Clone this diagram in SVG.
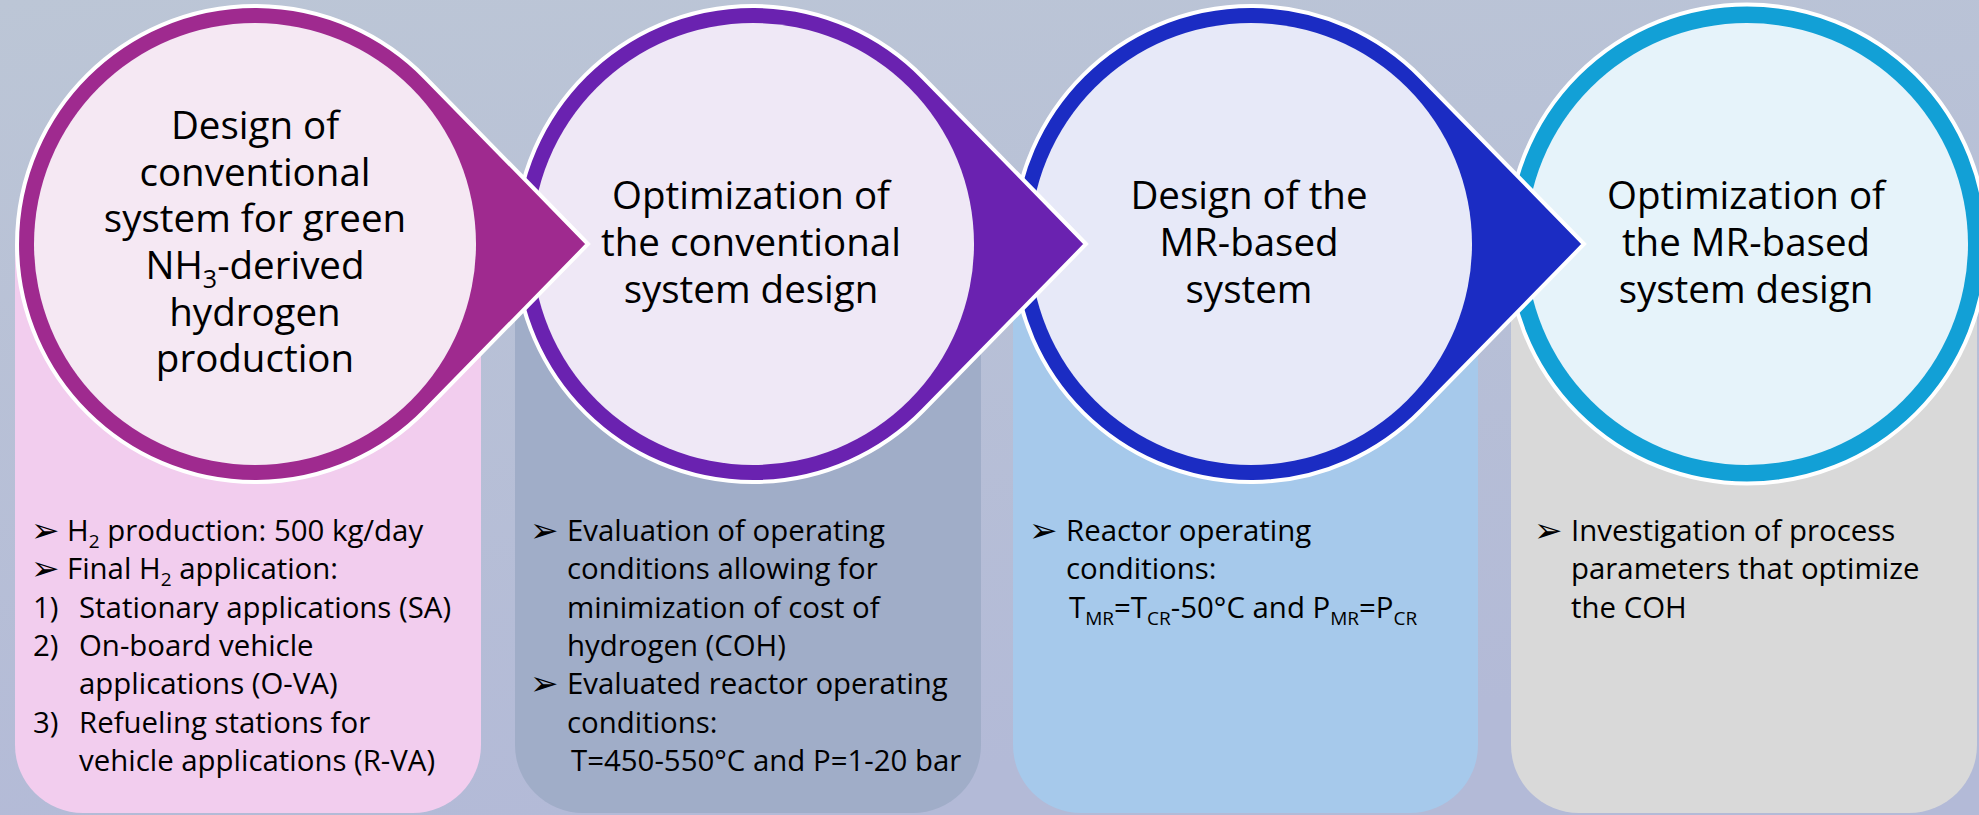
<svg xmlns="http://www.w3.org/2000/svg" width="1979" height="815" viewBox="0 0 1979 815">
<defs>
<linearGradient id="bg" x1="0" y1="0" x2="0.3" y2="1">
<stop offset="0" stop-color="#bcc6d6"/>
<stop offset="1" stop-color="#b3bad7"/>
</linearGradient>
<style>
.title{font-family:"Open Sans","Noto Sans","Liberation Sans",sans-serif;font-size:38.5px;fill:#000;text-anchor:middle}
.body{font-family:"Open Sans","Noto Sans","Liberation Sans",sans-serif;font-size:29.4px;fill:#000}
.bul{font-family:"DejaVu Sans",sans-serif;font-size:34px;fill:#000}
.sub{font-size:19px}
.tsub{font-size:25px}
.outline{stroke:#fff;stroke-width:4;stroke-linejoin:miter;stroke-miterlimit:10}
</style>
</defs>
<rect x="0" y="0" width="1979" height="815" fill="url(#bg)"/>

<g id="cards">
<path id="card1" d="M15 244 H481 V745 A68 68 0 0 1 413 813 H83 A68 68 0 0 1 15 745 Z" fill="#f2cdee"/>
<path id="card2" d="M515 244 H981 V745 A68 68 0 0 1 913 813 H583 A68 68 0 0 1 515 745 Z" fill="#a0adc8"/>
<path id="card3" d="M1013 244 H1478 V745 A68 68 0 0 1 1410 813 H1081 A68 68 0 0 1 1013 745 Z" fill="#a6c9eb"/>
<path id="card4" d="M1511 244 H1977 V745 A68 68 0 0 1 1909 813 H1579 A68 68 0 0 1 1511 745 Z" fill="#d9d9d9"/>
</g>

<g id="connectors"></g>

<g id="node4">
<circle class="outline" cx="1747" cy="244" r="239.5" fill="#12a0d6"/>
<circle cx="1747" cy="244" r="221" fill="#e6f3fa"/>
<text class="title" x="1746" y="209">Optimization of</text>
<text class="title" x="1746" y="256">the MR-based</text>
<text class="title" x="1746" y="303">system design</text>
</g>

<g id="node3">
<path class="outline" d="M1584 244 L1421.1 77.5 A238 238 0 1 0 1421.1 410.5 Z" fill="#1b2cc3"/>
<circle cx="1251" cy="244" r="221" fill="#e7e9f8"/>
<text class="title" x="1249" y="209">Design of the</text>
<text class="title" x="1249" y="256">MR-based</text>
<text class="title" x="1249" y="303">system</text>
</g>

<g id="node2">
<path class="outline" d="M1086 244 L923.1 77.5 A238 238 0 1 0 923.1 410.5 Z" fill="#6a22b0"/>
<circle cx="753" cy="244" r="221" fill="#efe8f6"/>
<text class="title" x="751" y="209">Optimization of</text>
<text class="title" x="751" y="256">the conventional</text>
<text class="title" x="751" y="303">system design</text>
</g>

<g id="node1">
<path class="outline" d="M588 244 L425.1 77.5 A238 238 0 1 0 425.1 410.5 Z" fill="#9f2a8f"/>
<circle cx="255" cy="244" r="221" fill="#f5e8f3"/>
<text class="title" x="255" y="139">Design of</text>
<text class="title" x="255" y="185.7">conventional</text>
<text class="title" x="255" y="232.3">system for green</text>
<text class="title" x="255" y="279">NH<tspan class="tsub" dy="9">3</tspan><tspan dy="-9">-derived</tspan></text>
<text class="title" x="255" y="325.7">hydrogen</text>
<text class="title" x="255" y="372.3">production</text>
</g>

<g id="text1">
<text class="bul" x="31" y="542">➢</text>
<text class="body" x="67" y="541">H<tspan class="sub" dy="7">2</tspan><tspan dy="-7"> production: 500 kg/day</tspan></text>
<text class="bul" x="31" y="580.3">➢</text>
<text class="body" x="67" y="579.3">Final H<tspan class="sub" dy="7">2</tspan><tspan dy="-7"> application:</tspan></text>
<text class="body" x="33" y="617.7">1)</text>
<text class="body" x="79" y="617.7">Stationary applications (SA)</text>
<text class="body" x="33" y="656">2)</text>
<text class="body" x="79" y="656">On-board vehicle</text>
<text class="body" x="79" y="694.3">applications (O-VA)</text>
<text class="body" x="33" y="732.7">3)</text>
<text class="body" x="79" y="732.7">Refueling stations for</text>
<text class="body" x="79" y="771">vehicle applications (R-VA)</text>
</g>

<g id="text2">
<text class="bul" x="530" y="542">➢</text>
<text class="body" x="567" y="541">Evaluation of operating</text>
<text class="body" x="567" y="579.3">conditions allowing for</text>
<text class="body" x="567" y="617.7">minimization of cost of</text>
<text class="body" x="567" y="656">hydrogen (COH)</text>
<text class="bul" x="530" y="695.3">➢</text>
<text class="body" x="567" y="694.3">Evaluated reactor operating</text>
<text class="body" x="567" y="732.7">conditions:</text>
<text class="body" x="571" y="771">T=450-550°C and P=1-20 bar</text>
</g>

<g id="text3">
<text class="bul" x="1029" y="542">➢</text>
<text class="body" x="1066" y="541">Reactor operating</text>
<text class="body" x="1066" y="579.3">conditions:</text>
<text class="body" x="1069" y="617.7">T<tspan class="sub" dy="7">MR</tspan><tspan dy="-7">=T</tspan><tspan class="sub" dy="7">CR</tspan><tspan dy="-7">-50°C and P</tspan><tspan class="sub" dy="7">MR</tspan><tspan dy="-7">=P</tspan><tspan class="sub" dy="7">CR</tspan></text>
</g>

<g id="text4">
<text class="bul" x="1534" y="542">➢</text>
<text class="body" x="1571" y="541">Investigation of process</text>
<text class="body" x="1571" y="579.3">parameters that optimize</text>
<text class="body" x="1571" y="617.7">the COH</text>
</g>
</svg>
